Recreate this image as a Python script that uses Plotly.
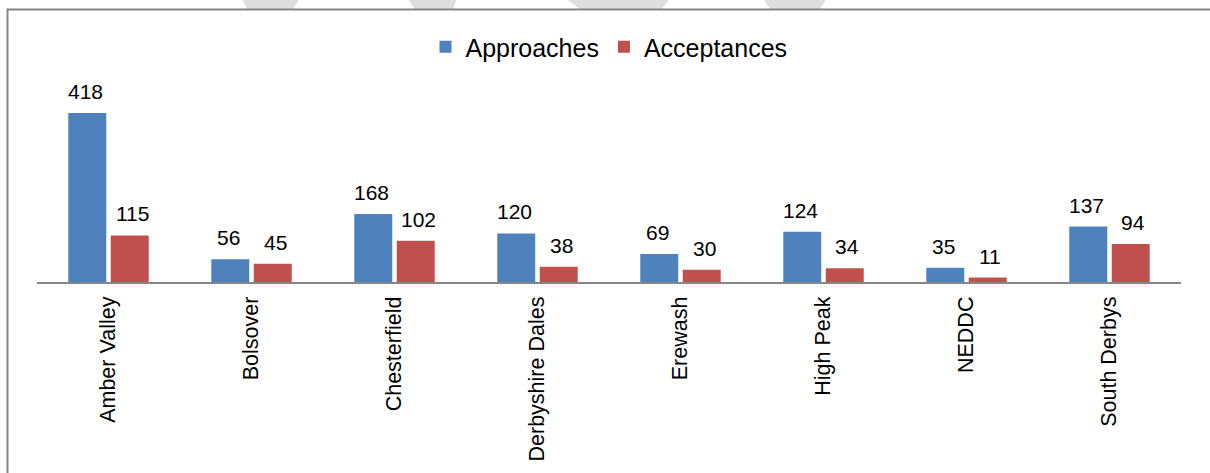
import plotly.graph_objects as go

categories = ["Amber Valley", "Bolsover", "Chesterfield", "Derbyshire Dales",
              "Erewash", "High Peak", "NEDDC", "South Derbys"]
approaches = [418, 56, 168, 120, 69, 124, 35, 137]
acceptances = [115, 45, 102, 38, 30, 34, 11, 94]

W, H = 1210, 473
ML, MR, MT, MB = 37, 29, 100, 191
PW = W - ML - MR
PH = H - MT - MB
BLUE = "#4F81BD"
RED = "#C0504D"
FONT = "Liberation Sans, Arial, sans-serif"


def px_x(px):
    return (px - ML) / PW


def px_y(py):
    return (H - MB - py) / PH


fig = go.Figure()
fig.add_trace(go.Bar(name="Approaches", x=categories, y=approaches,
                     marker=dict(color=BLUE, line=dict(width=0))))
fig.add_trace(go.Bar(name="Acceptances", x=categories, y=acceptances,
                     marker=dict(color=RED, line=dict(width=0))))

annotations = []
for cat, a, b in zip(categories, approaches, acceptances):
    for val, shift in ((a, -23.5), (b, 23.5)):
        annotations.append(dict(x=cat, y=val, xref="x", yref="y", text=str(val),
                                showarrow=False, xshift=shift, yshift=8,
                                yanchor="bottom", xanchor="center",
                                font=dict(size=21, color="black", family=FONT)))

shapes = []
# watermark fragments above the frame
stripes = [((242, 300), (247, 293)), ((407, 457), (415, 453)),
           ((565, 670), (580, 662)), ((763, 827), (770, 820))]
for (t0, t1), (b0, b1) in stripes:
    path = "M {} {} L {} {} L {} {} L {} {} Z".format(
        px_x(t0), px_y(-2), px_x(t1), px_y(-2), px_x(b1), px_y(9), px_x(b0), px_y(9))
    shapes.append(dict(type="path", xref="paper", yref="paper", path=path,
                       fillcolor="#DEDEDE", line=dict(width=0), layer="below"))
# outer frame
shapes.append(dict(type="rect", xref="paper", yref="paper",
                   x0=px_x(7.5), x1=px_x(1240), y0=px_y(490), y1=px_y(9.5),
                   line=dict(color="#868686", width=2), fillcolor="rgba(0,0,0,0)",
                   layer="below"))

fig.update_layout(
    width=W, height=H,
    margin=dict(l=ML, r=MR, t=MT, b=MB, pad=0, autoexpand=False),
    paper_bgcolor="white", plot_bgcolor="white",
    barmode="group", bargap=0.406, bargroupgap=0.106,
    font=dict(family=FONT, color="black"),
    showlegend=True,
    legend=dict(orientation="h", x=0.5, xanchor="center", y=px_y(47), yanchor="middle",
                font=dict(size=25, color="black", family=FONT),
                itemwidth=30, bgcolor="rgba(0,0,0,0)"),
    annotations=annotations,
    shapes=shapes,
)
fig.update_xaxes(showline=True, linecolor="#868686", linewidth=2, showgrid=False,
                 automargin=False,
                 tickangle=-90, ticks="outside", ticklen=4, tickcolor="rgba(0,0,0,0)",
                 tickfont=dict(size=21.5, color="black", family=FONT), zeroline=False)
fig.update_yaxes(range=[0, 450], visible=False, showgrid=False, zeroline=False,
                 automargin=False)

fig.write_html("out.html")
